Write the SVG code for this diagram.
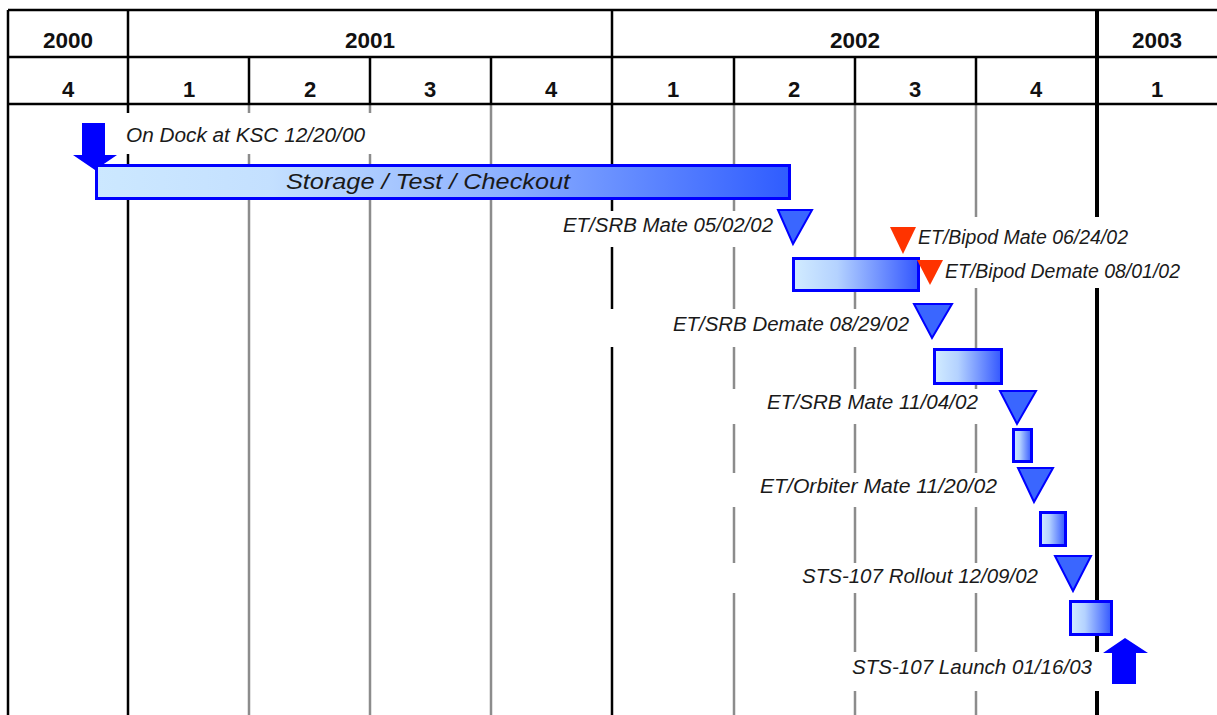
<svg xmlns="http://www.w3.org/2000/svg" width="1217" height="715" viewBox="0 0 1217 715">
<style>
.bg{fill:#ffffff}
.hl{stroke:#000;stroke-width:2.5;fill:none}
.vk{stroke:#000;stroke-width:2.5;fill:none}
.vk4{stroke:#000;stroke-width:4;fill:none}
.vg{stroke:#8c8c8c;stroke-width:2.5;fill:none}
.yr{font-family:"Liberation Sans",Arial,sans-serif;font-weight:bold;font-size:22.5px;fill:#111;text-anchor:middle}
.qt{font-family:"Liberation Sans",Arial,sans-serif;font-weight:bold;font-size:22px;fill:#111;text-anchor:middle}
.lbl{font-family:"Liberation Sans",Arial,sans-serif;font-style:italic;font-size:19.5px;fill:#1a1a1a}
.lblbg{fill:#ffffff}
.bar{stroke:#0000ff;stroke-width:3;fill:url(#gb)}
.bar1{stroke:#0000ff;stroke-width:3;fill:url(#g1)}
.tri{fill:#3a66ff;stroke:#0000ff;stroke-width:2;stroke-linejoin:miter}
.red{fill:#ff3300}
.arr{fill:#0000ff}
</style>
<defs>
<linearGradient id="g1" x1="0" y1="0" x2="1" y2="0">
<stop offset="0" stop-color="#cce8ff"/>
<stop offset="0.25" stop-color="#c4e0ff"/>
<stop offset="0.6" stop-color="#8aaeff"/>
<stop offset="1" stop-color="#2f5cff"/>
</linearGradient>
<linearGradient id="gb" x1="0" y1="0" x2="1" y2="0">
<stop offset="0" stop-color="#d2ecff"/>
<stop offset="0.35" stop-color="#b4d2ff"/>
<stop offset="1" stop-color="#3357ff"/>
</linearGradient>
</defs>
<rect class="bg" x="0" y="0" width="1217" height="715"/>

<g id="grid">
<line class="vg" x1="249" y1="104" x2="249" y2="715"/>
<line class="vg" x1="370" y1="104" x2="370" y2="715"/>
<line class="vg" x1="491" y1="104" x2="491" y2="715"/>
<line class="vg" x1="734" y1="104" x2="734" y2="715"/>
<line class="vg" x1="855" y1="104" x2="855" y2="715"/>
<line class="vg" x1="976" y1="104" x2="976" y2="715"/>
<line class="vk" x1="8" y1="10" x2="8" y2="715"/>
<line class="vk" x1="128" y1="10" x2="128" y2="715"/>
<line class="vk" x1="612" y1="10" x2="612" y2="715"/>
<line class="vk4" x1="1097" y1="10" x2="1097" y2="715"/>
</g>

<g id="label-backgrounds">
<rect class="lblbg" x="118" y="113" width="256" height="41"/>
<rect class="lblbg" x="555" y="211" width="223" height="36"/>
<rect class="lblbg" x="915" y="217" width="275" height="71"/>
<rect class="lblbg" x="605" y="309" width="307" height="38"/>
<rect class="lblbg" x="727" y="389" width="262" height="35"/>
<rect class="lblbg" x="727" y="473" width="278" height="34"/>
<rect class="lblbg" x="727" y="563" width="322" height="30"/>
<rect class="lblbg" x="845" y="652" width="256" height="39"/>
</g>

<g id="header">
<line class="hl" x1="8" y1="10" x2="1217" y2="10"/>
<line class="hl" x1="8" y1="57" x2="1217" y2="57"/>
<line class="hl" x1="8" y1="104" x2="1217" y2="104"/>
<line class="vk" x1="249" y1="57" x2="249" y2="104"/>
<line class="vk" x1="370" y1="57" x2="370" y2="104"/>
<line class="vk" x1="491" y1="57" x2="491" y2="104"/>
<line class="vk" x1="734" y1="57" x2="734" y2="104"/>
<line class="vk" x1="855" y1="57" x2="855" y2="104"/>
<line class="vk" x1="976" y1="57" x2="976" y2="104"/>
<text class="yr" x="68" y="48">2000</text>
<text class="yr" x="370" y="48">2001</text>
<text class="yr" x="855" y="48">2002</text>
<text class="yr" x="1157" y="48">2003</text>
<text class="qt" x="68" y="96.5">4</text>
<text class="qt" x="189" y="96.5">1</text>
<text class="qt" x="310" y="96.5">2</text>
<text class="qt" x="430" y="96.5">3</text>
<text class="qt" x="551" y="96.5">4</text>
<text class="qt" x="673" y="96.5">1</text>
<text class="qt" x="794" y="96.5">2</text>
<text class="qt" x="915" y="96.5">3</text>
<text class="qt" x="1036" y="96.5">4</text>
<text class="qt" x="1157" y="96.5">1</text>
</g>

<g id="on-dock">
<polygon class="arr" points="82,123 105,123 105,155 117,155 95,170 73,155 82,155"/>
<text class="lbl" x="126" y="142" textLength="239" lengthAdjust="spacingAndGlyphs">On Dock at KSC 12/20/00</text>
</g>

<g id="storage">
<rect class="bar1" x="96.5" y="165.5" width="693" height="33"/>
<text class="lbl" x="286" y="189" style="font-size:22px" fill="#222" textLength="284" lengthAdjust="spacingAndGlyphs">Storage / Test / Checkout</text>
</g>

<g id="et-srb-mate-1">
<polygon class="tri" points="778,210 812,210 793,244"/>
<text class="lbl" x="563" y="232" textLength="210" lengthAdjust="spacingAndGlyphs">ET/SRB Mate 05/02/02</text>
</g>

<g id="bar-2">
<rect class="bar" x="793.5" y="258.5" width="125" height="32"/>
</g>

<g id="et-bipod-mate">
<polygon class="red" points="890,227 916,227 903,254"/>
<text class="lbl" x="918" y="244" textLength="210" lengthAdjust="spacingAndGlyphs">ET/Bipod Mate 06/24/02</text>
</g>

<g id="et-bipod-demate">
<polygon class="red" points="917,260 943,260 930,285"/>
<text class="lbl" x="945" y="278" textLength="235" lengthAdjust="spacingAndGlyphs">ET/Bipod Demate 08/01/02</text>
</g>

<g id="et-srb-demate">
<polygon class="tri" points="914,304 952,304 932,338"/>
<text class="lbl" x="673" y="331" textLength="236" lengthAdjust="spacingAndGlyphs">ET/SRB Demate 08/29/02</text>
</g>

<g id="bar-3">
<rect class="bar" x="934.5" y="349.5" width="67" height="34"/>
</g>

<g id="et-srb-mate-2">
<polygon class="tri" points="1000,391 1036,391 1017,424"/>
<text class="lbl" x="767" y="409" textLength="211" lengthAdjust="spacingAndGlyphs">ET/SRB Mate 11/04/02</text>
</g>

<g id="bar-4">
<rect class="bar" x="1013.5" y="429.5" width="18" height="32"/>
</g>

<g id="et-orbiter-mate">
<polygon class="tri" points="1018,468 1053,468 1034,502"/>
<text class="lbl" x="760" y="493" textLength="237" lengthAdjust="spacingAndGlyphs">ET/Orbiter Mate 11/20/02</text>
</g>

<g id="bar-5">
<rect class="bar" x="1040.5" y="512.5" width="25" height="33"/>
</g>

<g id="rollout">
<polygon class="tri" points="1055,556 1091,556 1073,591"/>
<text class="lbl" x="802" y="583" textLength="236" lengthAdjust="spacingAndGlyphs">STS-107 Rollout 12/09/02</text>
</g>

<g id="bar-6">
<rect class="bar" x="1070.5" y="601.5" width="41" height="33"/>
</g>

<g id="launch">
<polygon class="arr" points="1125,638 1148,653 1136,653 1136,684 1112,684 1112,653 1103,653"/>
<text class="lbl" x="852" y="674" textLength="240" lengthAdjust="spacingAndGlyphs">STS-107 Launch 01/16/03</text>
</g>

<g id="connectors"></g>
</svg>
